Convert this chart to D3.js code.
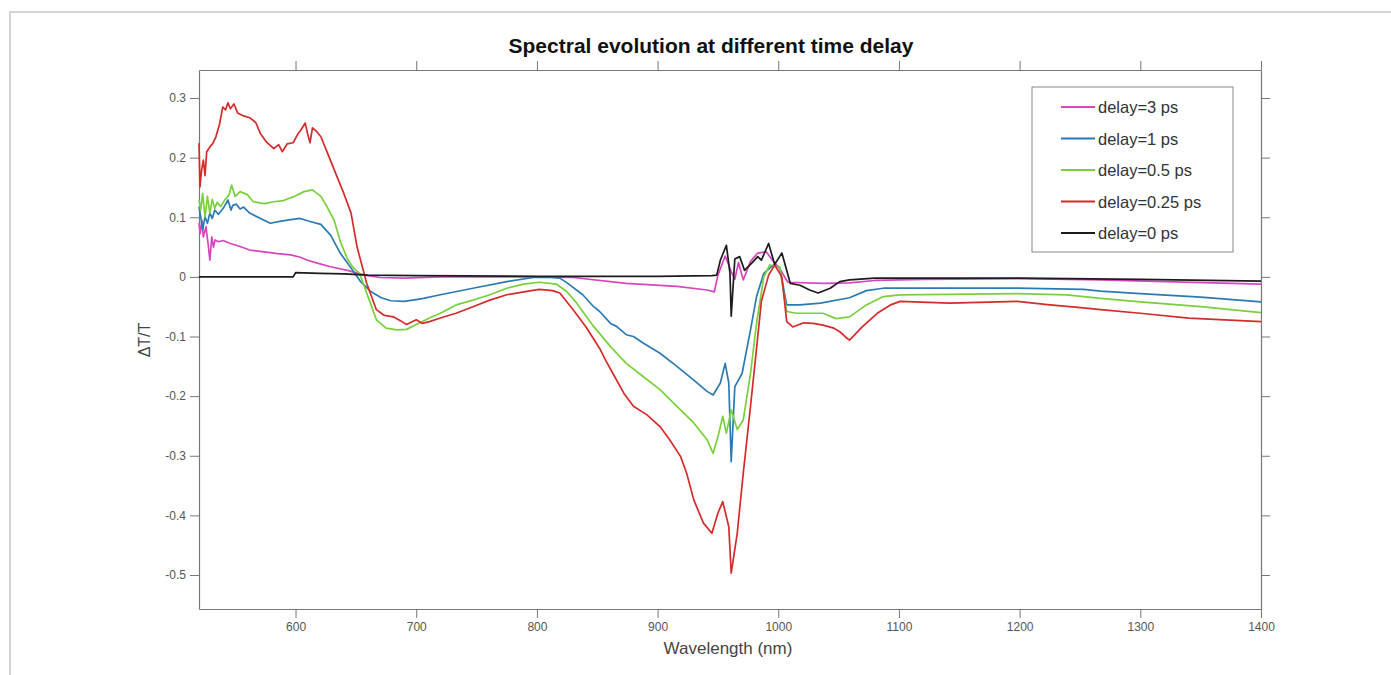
<!DOCTYPE html>
<html>
<head>
<meta charset="utf-8">
<script src="https://cdn.jsdelivr.net/npm/d3@7"></script>
<style>
  body { margin: 0; background: #fff; }
  svg { display: block; font-family: "Liberation Sans", Arial, sans-serif; }
  .tick text { fill: #555; font-size: 12px; }
  .tick line, .domain { stroke: #777; }
</style>
</head>
<body>
<svg width="1391" height="675"></svg>
<script>
// [wavelength nm, dT/T]
const delay3ps = [[520,0.09],[521,0.073],[522.4,0.095],[523.6,0.067],[525.8,0.084],[527.8,0.051],[529,0.028],[530.6,0.067],[532,0.05],[533.3,0.062],[536,0.059],[540,0.061],[546,0.056],[554,0.051],[562,0.045],[574,0.042],[585,0.039],[596,0.037],[604,0.033],[610,0.028],[618,0.023],[629,0.017],[643,0.011],[657,0.003],[670,-0.001],[690,-0.002],[720,0.0],[800,0.0],[830,-0.001],[874,-0.011],[916,-0.016],[941,-0.022],[947,-0.025],[950,0.003],[956,0.035],[961,0.009],[964,-0.004],[967,0.024],[971,-0.005],[977,0.026],[983,0.04],[990,0.042],[996,0.026],[1001,0.014],[1008,-0.009],[1037,-0.011],[1059,-0.01],[1080,-0.006],[1120,-0.004],[1200,-0.003],[1267,-0.005],[1320,-0.008],[1360,-0.01],[1400,-0.012]];

const delay1ps = [[520,0.118],[521.5,0.1],[523,0.079],[525,0.101],[527,0.09],[529,0.107],[531,0.098],[533,0.112],[536,0.105],[540,0.115],[544,0.129],[546.5,0.112],[548,0.12],[551,0.122],[554,0.114],[557,0.117],[562,0.107],[571,0.098],[579,0.09],[587,0.093],[596,0.096],[604,0.098],[612,0.093],[621,0.088],[629,0.07],[637,0.04],[646,0.015],[654,-0.008],[662,-0.024],[671,-0.035],[679,-0.04],[690,-0.041],[700,-0.038],[706,-0.036],[720,-0.03],[747,-0.019],[775,-0.008],[797,-0.001],[811,-0.001],[819,-0.002],[825,-0.01],[838,-0.03],[847,-0.05],[852,-0.058],[861,-0.078],[866,-0.083],[874,-0.097],[880,-0.1],[888,-0.111],[902,-0.128],[916,-0.15],[930,-0.173],[941,-0.192],[946,-0.198],[952,-0.178],[956,-0.145],[959,-0.178],[961,-0.31],[964,-0.184],[970,-0.162],[977,-0.089],[982,-0.033],[988,0.006],[996,0.02],[1001,0.017],[1007,-0.047],[1018,-0.047],[1035,-0.044],[1059,-0.035],[1073,-0.023],[1087,-0.019],[1150,-0.019],[1198,-0.019],[1253,-0.021],[1267,-0.024],[1300,-0.028],[1350,-0.034],[1400,-0.042]];

const delay05ps = [[520,0.129],[521.4,0.112],[523,0.14],[525,0.1],[527,0.135],[529,0.107],[531,0.13],[533,0.115],[535,0.125],[538,0.118],[541,0.128],[545,0.138],[547,0.154],[550,0.135],[554,0.143],[560,0.138],[565,0.126],[574,0.123],[582,0.126],[590,0.128],[599,0.135],[607,0.143],[614,0.146],[621,0.135],[626,0.118],[632,0.095],[637,0.06],[643,0.03],[648,0.015],[653,0.006],[662,-0.044],[667,-0.072],[675,-0.086],[684,-0.089],[692,-0.088],[700,-0.08],[711,-0.069],[720,-0.061],[733,-0.047],[747,-0.039],[761,-0.03],[775,-0.019],[789,-0.012],[802,-0.009],[816,-0.012],[825,-0.025],[833,-0.044],[847,-0.083],[861,-0.117],[874,-0.145],[888,-0.167],[902,-0.189],[916,-0.217],[930,-0.245],[941,-0.273],[946,-0.296],[950,-0.268],[954,-0.234],[957,-0.262],[961,-0.223],[966,-0.256],[971,-0.24],[977,-0.162],[982,-0.078],[988,0.0],[993,0.02],[1001,0.017],[1007,-0.058],[1015,-0.061],[1037,-0.061],[1048,-0.07],[1059,-0.067],[1073,-0.047],[1087,-0.033],[1101,-0.03],[1198,-0.028],[1239,-0.03],[1267,-0.036],[1300,-0.042],[1350,-0.05],[1400,-0.06]];

const delay025ps = [[520,0.224],[520.8,0.151],[522.2,0.18],[523.6,0.196],[525,0.17],[526.4,0.21],[529,0.218],[531.5,0.224],[534,0.235],[537,0.256],[539.7,0.285],[542,0.28],[544,0.292],[546,0.282],[549,0.29],[552,0.275],[557,0.27],[562,0.267],[567,0.259],[571,0.24],[576,0.226],[582,0.215],[586,0.222],[589,0.21],[593,0.223],[598,0.225],[602,0.24],[604,0.245],[608,0.258],[610,0.24],[612,0.225],[614,0.25],[617,0.245],[621,0.235],[626,0.21],[632,0.18],[640,0.14],[646,0.107],[651,0.05],[659,-0.011],[667,-0.055],[673,-0.064],[681,-0.067],[688,-0.075],[692,-0.08],[700,-0.072],[705,-0.078],[711,-0.075],[720,-0.069],[733,-0.061],[747,-0.05],[761,-0.039],[775,-0.03],[789,-0.025],[802,-0.021],[813,-0.023],[819,-0.027],[830,-0.055],[841,-0.085],[852,-0.12],[857,-0.14],[863,-0.162],[872,-0.195],[880,-0.217],[891,-0.231],[902,-0.251],[910,-0.273],[919,-0.301],[924,-0.329],[930,-0.374],[938,-0.413],[945,-0.43],[950,-0.396],[954,-0.377],[959,-0.419],[961,-0.497],[966,-0.43],[971,-0.329],[977,-0.217],[982,-0.12],[986,-0.041],[992,0.003],[997,0.02],[1003,0.0],[1007,-0.075],[1012,-0.084],[1021,-0.077],[1029,-0.078],[1037,-0.081],[1046,-0.086],[1051,-0.092],[1057,-0.103],[1059,-0.106],[1070,-0.083],[1082,-0.061],[1093,-0.047],[1101,-0.041],[1142,-0.044],[1198,-0.041],[1225,-0.047],[1253,-0.052],[1267,-0.055],[1300,-0.061],[1340,-0.069],[1400,-0.075]];

const delay0ps = [[520,0.0],[598,0.0],[600,0.007],[620,0.006],[640,0.005],[660,0.003],[700,0.002],[800,0.001],[900,0.001],[945,0.002],[949,0.003],[952,0.028],[957,0.053],[960,0.006],[961,-0.066],[964,0.03],[968,0.034],[972,0.011],[978,0.023],[983,0.034],[986,0.028],[992,0.056],[997,0.021],[1003,0.04],[1010,-0.011],[1018,-0.014],[1026,-0.022],[1033,-0.027],[1043,-0.019],[1051,-0.008],[1059,-0.005],[1080,-0.002],[1200,-0.002],[1300,-0.004],[1400,-0.007]];

const seriesNames = ['delay=3 ps', 'delay=1 ps', 'delay=0.5 ps', 'delay=0.25 ps', 'delay=0 ps'];
const seriesData = [delay3ps, delay1ps, delay05ps, delay025ps, delay0ps];
const seriesColors = ['#d846bf', '#2b7bb2', '#79d03c', '#d62b2b', '#1c1c1c'];
const xTicks = [600, 700, 800, 900, 1000, 1100, 1200, 1300, 1400];
const yTicks = [-0.5, -0.4, -0.3, -0.2, -0.1, 0, 0.1, 0.2, 0.3];

const svg = d3.select('svg');
const plotLeft = 199, plotRight = 1261, plotTop = 70, plotBottom = 609;

// light frame of the figure window
svg.append('rect')
    .attr('x', 10).attr('y', 12)
    .attr('width', 1400).attr('height', 700)
    .attr('fill', 'none')
    .attr('stroke', '#d4d4d4')
    .attr('stroke-width', 2);

const x = d3.scaleLinear().domain([520, 1400]).range([plotLeft, plotRight]);
const y = d3.scaleLinear().domain([-0.557, 0.347]).range([plotBottom, plotTop]);

const fmt = d => d === 0 ? '0' : d3.format('.1f')(d).replace('−', '-');

svg.append('g')
    .attr('transform', `translate(0,${plotBottom})`)
    .call(d3.axisBottom(x).tickValues(xTicks).tickSize(9).tickSizeOuter(0)
        .tickFormat(d3.format('d')).tickPadding(4));
svg.append('g')
    .attr('transform', `translate(0,${plotTop})`)
    .call(d3.axisTop(x).tickValues(xTicks).tickSize(9).tickSizeOuter(0).tickFormat(''));
svg.append('g')
    .attr('transform', `translate(${plotLeft},0)`)
    .call(d3.axisLeft(y).tickValues(yTicks).tickSize(9).tickSizeOuter(0).tickFormat(fmt).tickPadding(4));
svg.append('g')
    .attr('transform', `translate(${plotRight},0)`)
    .call(d3.axisRight(y).tickValues(yTicks).tickSize(9).tickSizeOuter(0).tickFormat(''));

svg.selectAll('.domain').attr('stroke-width', 1.2);

const line = d3.line()
    .x(d => x(d[0]))
    .y(d => y(d[1]));

svg.append('g')
    .selectAll('path')
    .data(seriesData)
    .enter().append('path')
    .attr('d', line)
    .attr('fill', 'none')
    .attr('stroke', (d, i) => seriesColors[i])
    .attr('stroke-width', 1.7)
    .attr('stroke-linejoin', 'round');

// title and axis labels
svg.append('text')
    .attr('x', 711).attr('y', 53)
    .attr('text-anchor', 'middle')
    .style('font-size', '21px')
    .style('font-weight', 'bold')
    .attr('fill', '#111')
    .text('Spectral evolution at different time delay');

svg.append('text')
    .attr('x', 728).attr('y', 654)
    .attr('text-anchor', 'middle')
    .style('font-size', '17px')
    .attr('fill', '#444')
    .text('Wavelength (nm)');

svg.append('text')
    .attr('transform', 'translate(150,340) rotate(-90)')
    .attr('text-anchor', 'middle')
    .style('font-size', '16px')
    .attr('fill', '#444')
    .text('ΔT/T');

// legend
const legend = svg.append('g');
legend.append('rect')
    .attr('x', 1032).attr('y', 87)
    .attr('width', 201).attr('height', 165)
    .attr('fill', '#fff')
    .attr('stroke', '#888')
    .attr('stroke-width', 1);

const rows = legend.selectAll('g.row')
    .data(seriesNames)
    .enter().append('g')
    .attr('class', 'row')
    .attr('transform', (d, i) => `translate(0,${107 + i * 31.5})`);
rows.append('line')
    .attr('x1', 1061).attr('x2', 1095)
    .attr('stroke', (d, i) => seriesColors[i])
    .attr('stroke-width', 2);
rows.append('text')
    .attr('x', 1098).attr('y', 6)
    .style('font-size', '16.5px')
    .attr('fill', '#333')
    .text(d => d);
</script>
</body>
</html>
